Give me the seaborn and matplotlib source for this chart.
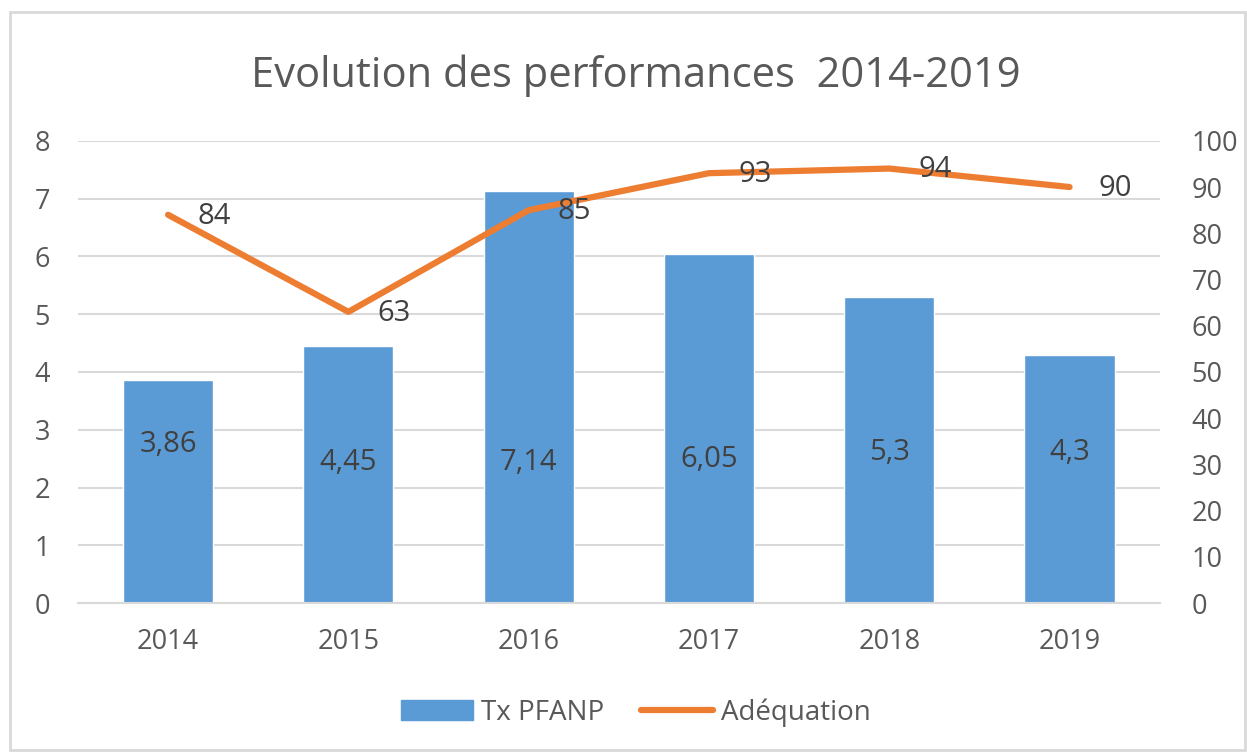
import matplotlib.pyplot as plt
import matplotlib.patches as mpatches
import matplotlib.lines as mlines
import seaborn as sns
import pandas as pd

# Data
years = ['2014', '2015', '2016', '2017', '2018', '2019']
tx_pfanp = [3.86, 4.45, 7.14, 6.05, 5.3, 4.3]
adequation = [84, 63, 85, 93, 94, 90]

BLUE = '#5B9BD5'
ORANGE = '#ED7D31'
GREY = '#595959'
GRID = '#D9D9D9'

sns.set_style('white')
plt.rcParams['font.family'] = ['Open Sans', 'DejaVu Sans']

df = pd.DataFrame({'year': years, 'tx': tx_pfanp, 'adeq': adequation})

fig = plt.figure(figsize=(12.47, 7.53), dpi=100)
ax = fig.add_axes([0.0625, 0.199, 0.8675, 0.614])

# Bars (left axis)
sns.barplot(data=df, x='year', y='tx', color=BLUE, saturation=1,
            width=0.5, ax=ax, zorder=2)
ax.set_ylim(0, 8)
ax.set_yticks(range(0, 9))
ax.yaxis.grid(True, color=GRID, linewidth=1.5, zorder=0)
ax.set_axisbelow(True)
ax.set_xlim(-0.5, len(years) - 0.5)
ax.set_xlabel('')
ax.set_ylabel('')
for s in ['top', 'right', 'left']:
    ax.spines[s].set_visible(False)
ax.spines['bottom'].set_color(GRID)
ax.spines['bottom'].set_linewidth(1.5)
ax.tick_params(axis='both', length=0, labelsize=19.5, labelcolor=GREY)
ax.tick_params(axis='y', pad=20)
ax.tick_params(axis='x', pad=18)

# Bar value labels (inside the bars, comma decimal separator)
label_y = [2.74, 2.44, 2.44, 2.48, 2.61, 2.61]
for i, v in enumerate(tx_pfanp):
    ax.text(i, label_y[i], f'{v:g}'.replace('.', ','), ha='center',
            va='center', fontsize=21, color='#404040', zorder=4)

# Line (right axis)
ax2 = ax.twinx()
sns.lineplot(x=list(range(len(years))), y=adequation, color=ORANGE,
             linewidth=4.5, ax=ax2, zorder=3)
ax2.set_ylim(0, 100)
ax2.set_yticks(range(0, 101, 10))
ax2.set_xlim(-0.5, len(years) - 0.5)
for s in ['top', 'right', 'left', 'bottom']:
    ax2.spines[s].set_visible(False)
ax2.tick_params(axis='y', length=0, labelsize=19.5, labelcolor=GREY, pad=23)
for i, v in enumerate(adequation):
    ax2.annotate(str(v), (i, v), xytext=(33, -1), textcoords='offset points',
                 ha='center', va='center', fontsize=21, color='#404040')

fig.suptitle('Evolution des performances  2014-2019', fontsize=30,
             color=GREY, x=0.51, y=0.90, va='center')

# Legend at the bottom
handles = [mpatches.Patch(color=BLUE, label='Tx PFANP'),
           mlines.Line2D([], [], color=ORANGE, linewidth=4.5,
                         label='Adéquation')]
fig.legend(handles=handles, loc='center', bbox_to_anchor=(0.51, 0.054),
           ncol=2, frameon=False, fontsize=20, labelcolor=GREY,
           handlelength=2.6, handletextpad=0.3, columnspacing=1.3)

# Light chart border
fig.patches.append(mpatches.Rectangle((0.008, 0.004), 0.99, 0.98,
                                      transform=fig.transFigure,
                                      fill=False, edgecolor=GRID,
                                      linewidth=2))

fig.savefig('out.png', dpi=100)
plt.close()
